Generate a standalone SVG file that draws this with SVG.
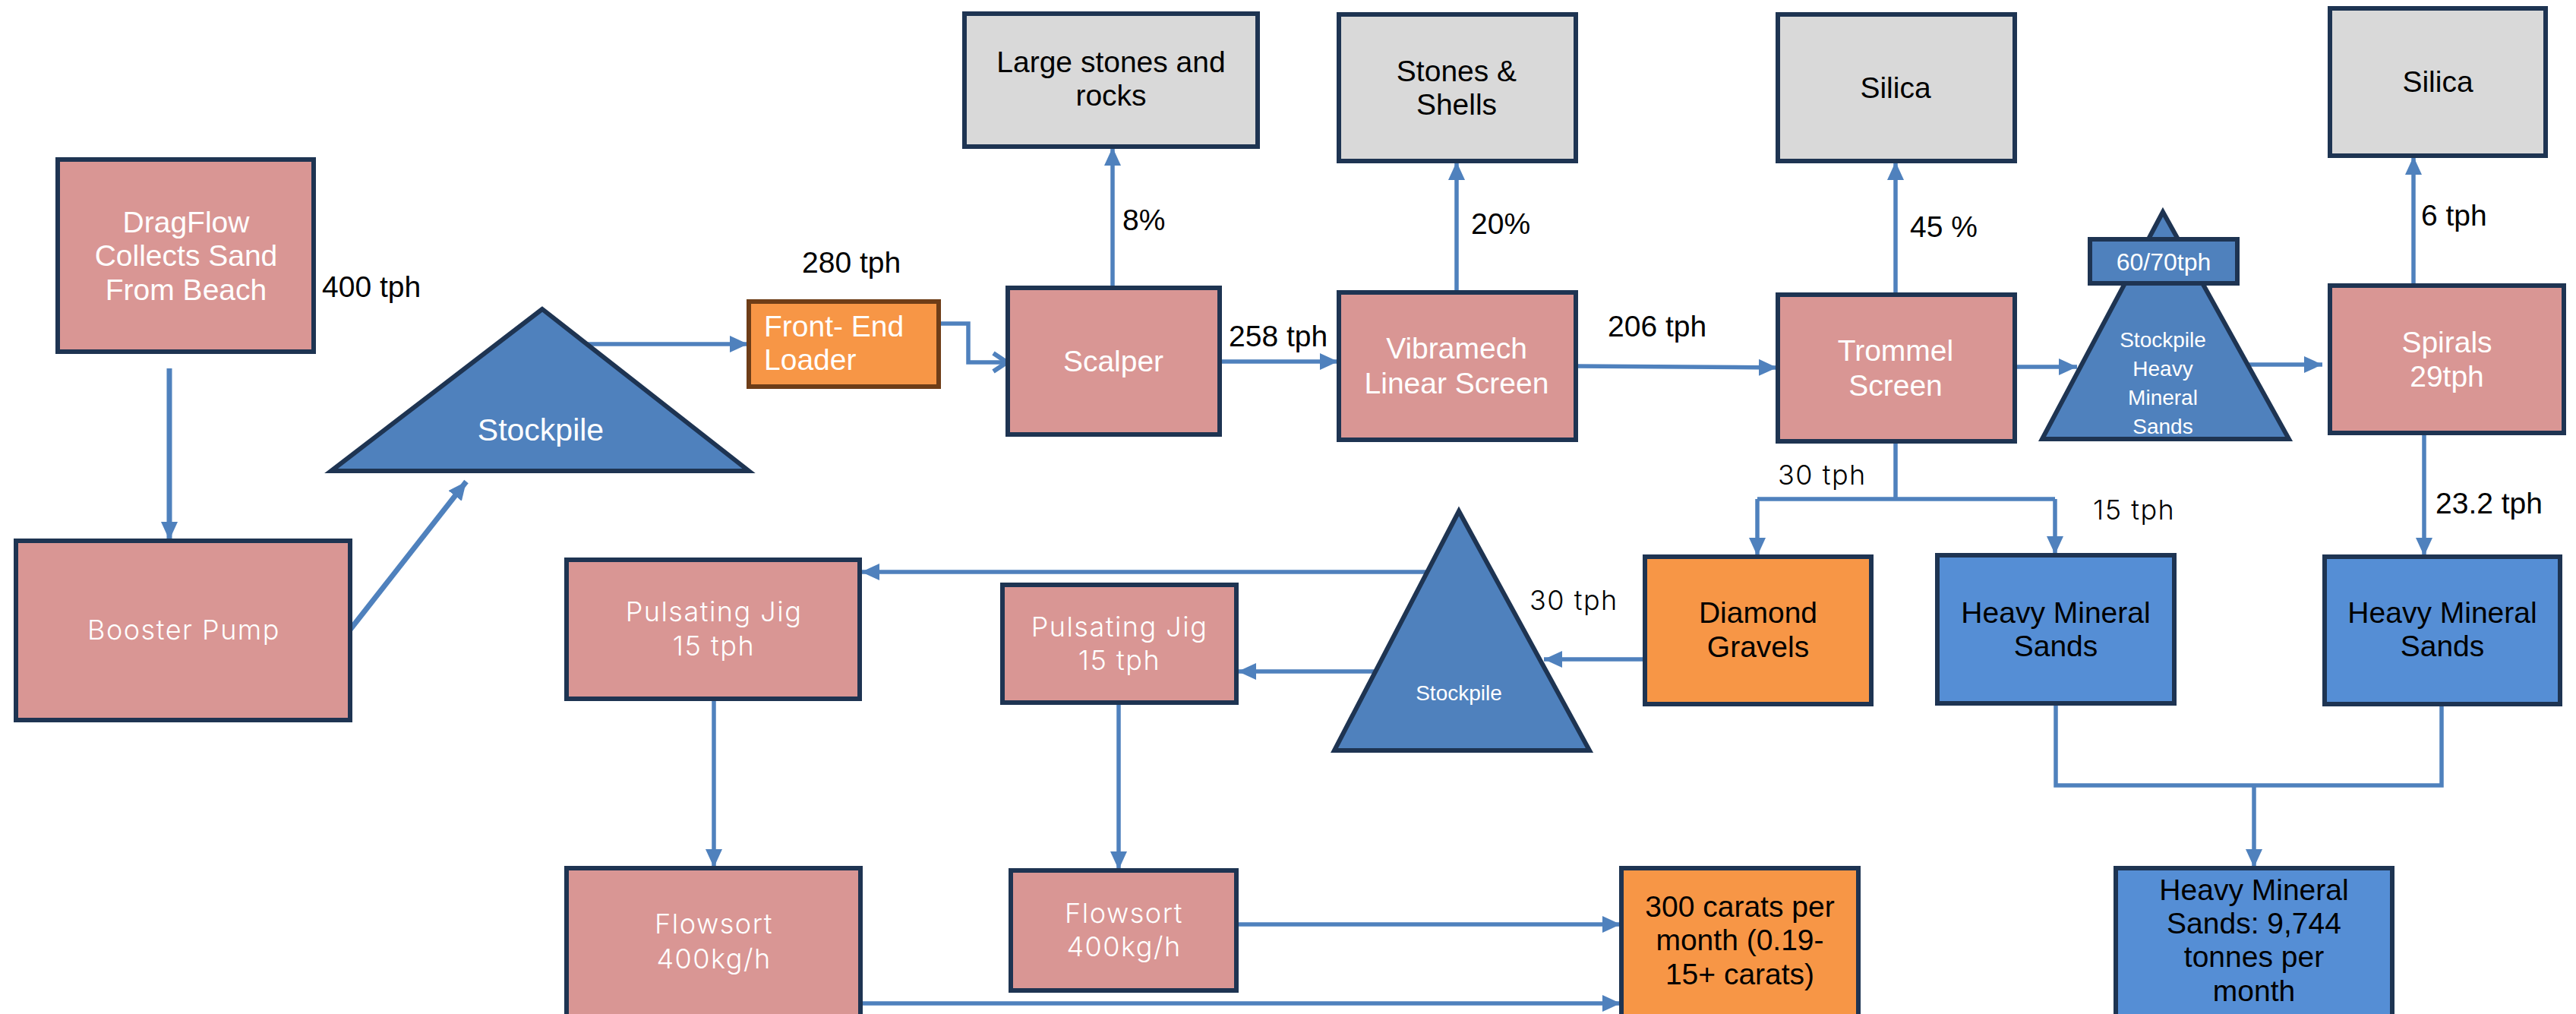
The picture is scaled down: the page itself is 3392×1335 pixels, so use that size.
<svg xmlns="http://www.w3.org/2000/svg" width="3392" height="1335" viewBox="0 0 3392 1335">
<defs>
<marker id="ah" markerUnits="userSpaceOnUse" markerWidth="26" markerHeight="22" refX="24" refY="11" orient="auto">
<path d="M0,0 L24,11 L0,22 Z" fill="#4F81BD"/>
</marker>
<marker id="av" markerUnits="userSpaceOnUse" markerWidth="26" markerHeight="30" refX="22" refY="15" orient="auto">
<path d="M4,3 L22,15 L4,27" fill="none" stroke="#4F81BD" stroke-width="6"/>
</marker>
<style>
.n{stroke:#1E3452;stroke-width:6;stroke-linejoin:miter}
.pk{fill:#D99694}
.gy{fill:#D9D9D9}
.or{fill:#F79646}
.bl{fill:#558ED5}
.tri{fill:#4F81BD}
.fel{fill:#F79646;stroke:#6E3D17;stroke-width:6}
.c{fill:none;stroke:#4F81BD;stroke-width:5.5}
.cw{fill:none;stroke:#4F81BD;stroke-width:7}
.a{marker-end:url(#ah)}
text{font-family:"Liberation Sans",Arial,"Open Sans",sans-serif;font-size:39px}
.m{font-family:Inter,"Open Sans","Liberation Sans",sans-serif;font-weight:300;font-size:36px;letter-spacing:1.5px}
.w{fill:#FFFFFF}
.k{fill:#000000}
.mid{text-anchor:middle}
.s{font-size:28px}
</style>
</defs>
<rect width="3392" height="1335" fill="#FFFFFF"/>

<g id="connectors">
<path class="cw a" d="M223,485 V711"/>
<path class="cw a" d="M461,829 L614,634"/>
<path class="c a" d="M772,453 H985"/>
<path class="c" d="M1236,426 H1275 V477 H1326" marker-end="url(#av)"/>
<path class="c a" d="M1465,379 V194"/>
<path class="c a" d="M1606,476 H1762"/>
<path class="c a" d="M1918,385 V213"/>
<path class="c a" d="M2075,482 L2340,484"/>
<path class="c a" d="M2496,388 V213"/>
<path class="c a" d="M2653,483 H2735"/>
<path class="c a" d="M2943,480 H3058"/>
<path class="c a" d="M3178,376 V206"/>
<path class="c" d="M2496,581 V657 M2314,657 H2706"/>
<path class="c a" d="M2314,657 V732"/>
<path class="c a" d="M2706,657 V730"/>
<path class="c a" d="M3192,570 V732"/>
<path class="c" d="M2707,926 V1034 H3215 V927"/>
<path class="c a" d="M2968,1034 V1142"/>
<path class="c a" d="M2166,868 H2033"/>
<path class="c a" d="M1879,753 H1134"/>
<path class="c a" d="M1811,884 H1630"/>
<path class="c a" d="M940,920 V1142"/>
<path class="c a" d="M1473,925 V1145"/>
<path class="c a" d="M1628,1217 H2134"/>
<path class="c a" d="M1133,1321 H2134"/>
</g>

<g id="labels">
<text class="k" x="424" y="391">400 tph</text>
<text class="k" x="1056" y="359">280 tph</text>
<text class="k" x="1478" y="303">8%</text>
<text class="k" x="1618" y="456">258 tph</text>
<text class="k" x="1937" y="308">20%</text>
<text class="k" x="2117" y="443">206 tph</text>
<text class="k" x="2515" y="312">45 %</text>
<text class="k" x="3188" y="297">6 tph</text>
<text class="k m" x="2341" y="638">30 tph</text>
<text class="k m" x="2756" y="684">15 tph</text>
<text class="k" x="3207" y="676">23.2 tph</text>
<text class="k m" x="2014" y="803">30 tph</text>
</g>

<g id="dragflow">
<rect class="n pk" x="76" y="210" width="337" height="253"/>
<text class="w mid" x="245" y="306">DragFlow</text>
<text class="w mid" x="245" y="350">Collects Sand</text>
<text class="w mid" x="245" y="395">From Beach</text>
</g>
<g id="booster-pump">
<rect class="n pk" x="21" y="712" width="440" height="236"/>
<text class="w m mid" x="242" y="842">Booster Pump</text>
</g>
<g id="stockpile-1">
<polygon class="n tri" points="714,407 436,620 986,620"/>
<text class="w mid" x="712" y="580" style="font-size:41px">Stockpile</text>
</g>
<g id="front-end-loader">
<rect class="fel" x="986" y="397" width="250" height="112"/>
<text class="w" x="1006" y="443">Front- End</text>
<text class="w" x="1006" y="487">Loader</text>
</g>
<g id="scalper">
<rect class="n pk" x="1327" y="379" width="279" height="193"/>
<text class="w mid" x="1466" y="489">Scalper</text>
</g>
<g id="large-stones">
<rect class="n gy" x="1270" y="18" width="386" height="175"/>
<text class="k mid" x="1463" y="95">Large stones and</text>
<text class="k mid" x="1463" y="139">rocks</text>
</g>
<g id="vibramech">
<rect class="n pk" x="1763" y="385" width="312" height="194"/>
<text class="w mid" x="1918" y="472">Vibramech</text>
<text class="w mid" x="1918" y="518">Linear Screen</text>
</g>
<g id="stones-shells">
<rect class="n gy" x="1763" y="19" width="312" height="193"/>
<text class="k mid" x="1918" y="107">Stones &amp;</text>
<text class="k mid" x="1918" y="151">Shells</text>
</g>
<g id="trommel">
<rect class="n pk" x="2341" y="388" width="312" height="193"/>
<text class="w mid" x="2496" y="475">Trommel</text>
<text class="w mid" x="2496" y="521">Screen</text>
</g>
<g id="silica-1">
<rect class="n gy" x="2341" y="19" width="312" height="193"/>
<text class="k mid" x="2496" y="129">Silica</text>
</g>
<g id="stockpile-hms">
<polygon class="n tri" points="2848,279 2689,578 3014,578"/>
<rect class="n tri" x="2752" y="315" width="194" height="58"/>
<text class="w mid" x="2849" y="356" style="font-size:32px">60/70tph</text>
<text class="w mid s" x="2848" y="457">Stockpile</text>
<text class="w mid s" x="2848" y="495">Heavy</text>
<text class="w mid s" x="2848" y="533">Mineral</text>
<text class="w mid s" x="2848" y="571">Sands</text>
</g>
<g id="spirals">
<rect class="n pk" x="3068" y="376" width="308" height="194"/>
<text class="w mid" x="3222" y="464">Spirals</text>
<text class="w mid" x="3222" y="509">29tph</text>
</g>
<g id="silica-2">
<rect class="n gy" x="3068" y="11" width="284" height="194"/>
<text class="k mid" x="3210" y="121">Silica</text>
</g>
<g id="diamond-gravels">
<rect class="n or" x="2166" y="733" width="298" height="194"/>
<text class="k mid" x="2315" y="820">Diamond</text>
<text class="k mid" x="2315" y="865">Gravels</text>
</g>
<g id="hms-1">
<rect class="n bl" x="2551" y="731" width="312" height="195"/>
<text class="k mid" x="2707" y="820">Heavy Mineral</text>
<text class="k mid" x="2707" y="864">Sands</text>
</g>
<g id="hms-2">
<rect class="n bl" x="3061" y="733" width="310" height="194"/>
<text class="k mid" x="3216" y="820">Heavy Mineral</text>
<text class="k mid" x="3216" y="864">Sands</text>
</g>
<g id="hms-total">
<rect class="n bl" x="2786" y="1143" width="364" height="205"/>
<text class="k mid" x="2968" y="1185">Heavy Mineral</text>
<text class="k mid" x="2968" y="1229">Sands: 9,744</text>
<text class="k mid" x="2968" y="1273">tonnes per</text>
<text class="k mid" x="2968" y="1318">month</text>
</g>
<g id="carats">
<rect class="n or" x="2135" y="1143" width="312" height="205"/>
<text class="k mid" x="2291" y="1207">300 carats per</text>
<text class="k mid" x="2291" y="1251">month (0.19-</text>
<text class="k mid" x="2291" y="1296">15+ carats)</text>
</g>
<g id="stockpile-2">
<polygon class="n tri" points="1921,673 1757,988 2093,988"/>
<text class="w mid s" x="1921" y="922">Stockpile</text>
</g>
<g id="pulsating-jig-1">
<rect class="n pk" x="746" y="737" width="386" height="183"/>
<text class="w m mid" x="940" y="818">Pulsating Jig</text>
<text class="w m mid" x="940" y="863">15 tph</text>
</g>
<g id="pulsating-jig-2">
<rect class="n pk" x="1320" y="770" width="308" height="155"/>
<text class="w m mid" x="1474" y="838">Pulsating Jig</text>
<text class="w m mid" x="1474" y="882">15 tph</text>
</g>
<g id="flowsort-1">
<rect class="n pk" x="746" y="1143" width="387" height="205"/>
<text class="w m mid" x="940" y="1229">Flowsort</text>
<text class="w m mid" x="940" y="1275">400kg/h</text>
</g>
<g id="flowsort-2">
<rect class="n pk" x="1331" y="1146" width="297" height="158"/>
<text class="w m mid" x="1480" y="1215">Flowsort</text>
<text class="w m mid" x="1480" y="1259">400kg/h</text>
</g>
</svg>
